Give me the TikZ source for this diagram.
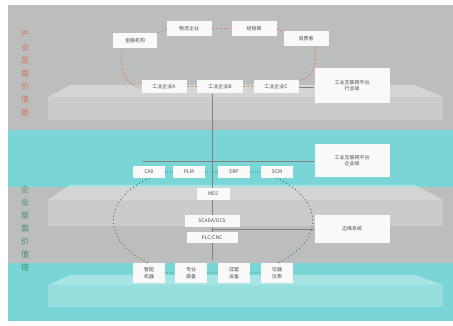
\documentclass[tikz,border=0pt]{standalone}
\usepackage{fontspec}
\newfontfamily\cjk{Noto Sans CJK SC}
\usetikzlibrary{positioning,backgrounds}
\definecolor{bandgray}{RGB}{188,190,190}
\definecolor{bandcyan}{RGB}{122,214,214}
\definecolor{loopor}{RGB}{214,140,100}
\definecolor{sideor}{RGB}{206,118,88}
\definecolor{dotgreen}{RGB}{58,110,80}
\definecolor{sidegreen}{RGB}{70,140,100}
\begin{document}
\begin{tikzpicture}[x=1pt,y=1pt,
  box/.style={fill=white!95!gray,inner sep=0pt,minimum width=32pt,minimum height=12pt,
    font=\cjk\fontsize{5}{6}\selectfont,text=black!70,align=center},
  sidebox/.style={box,minimum width=75pt},
  sidetext/.style={font=\cjk\fontsize{8}{13}\selectfont,align=center},
  slabtop/.style={fill=white,fill opacity=0.35},
  slabfront/.style={fill=white,fill opacity=0.22},
  chain/.style={loopor,line width=1pt,dash pattern=on 2pt off 2pt},
  ring/.style={dotgreen,line width=1.3pt,dash pattern=on 0pt off 3.6pt,line cap=round},
  dots/.style={dotgreen,line width=1pt,dash pattern=on 0pt off 2.5pt,line cap=round},
  link/.style={black!50,line width=0.4pt}]
\useasboundingbox (0,0) rectangle (453,326);

% side labels
\node[sidetext,text=sideor] (cyl) at (25,253) {产\\业\\层\\面\\价\\值\\链};
\node[sidetext,text=sidegreen] (qyl) at (25,98) {企\\业\\层\\面\\价\\值\\链};

% industry level
\node[box,minimum width=44pt,minimum height=15pt] (jr) at (135,285) {金融机构};
\node[box,minimum width=45pt,minimum height=15pt] (wl) at (189,297) {物流企业};
\node[box,minimum width=45pt,minimum height=15pt] (jx) at (254,297) {经销商};
\node[box,minimum width=45pt,minimum height=15pt] (xf) at (306,287) {消费者};
\node[box,minimum width=45pt,minimum height=13pt] (qa) at (164,239) {工业企业A};
\node[box,minimum width=46pt,minimum height=13pt] (qb) at (220,239) {工业企业B};
\node[box,minimum width=45pt,minimum height=13pt] (qc) at (276,239) {工业企业C};
\node[sidebox,minimum height=35pt] (hy) at (352,240) {工业互联网平台\\行业级};

% enterprise level
\node[box] (cax) at (149,154) {CAX};
\node[box] (plm) at (189,154) {PLM};
\node[box] (erp) at (234,154) {ERP};
\node[box] (scm) at (277,154) {SCM};
\node[sidebox,minimum height=33pt] (qy) at (352,165) {工业互联网平台\\企业级};
\node[box,minimum width=33pt] (mes) at (213,132) {MES};
\node[box,minimum width=55pt] (scada) at (212,105) {SCADA/DCS};
\node[box,minimum width=51pt,minimum height=11pt] (plc) at (212,88) {PLC/CNC};
\node[sidebox,minimum height=28pt] (by) at (352,97) {边缘系统};

% devices
\foreach \n/\x/\t in {zn/149/智能\\机器, zy/191/专业\\装备, ct/234/成套\\设备, yq/277/仪器\\仪表}
  \node[box,minimum height=20pt,font=\cjk\fontsize{5}{7}\selectfont] (\n) at (\x,53) {\t};

\begin{pgfonlayer}{background}
  % bands
  \fill[white] (0,0) rectangle (453,326);
  \fill[bandgray] (8,196) rectangle (453,321);
  \fill[bandcyan] (8,139) rectangle (453,196);
  \fill[bandgray] (8,63) rectangle (453,139);
  \fill[bandcyan] (8,5) rectangle (453,63);
  % slabs
  \foreach \b/\f/\u in {241/229/206, 141/126/100, 51/41/19} {
    \fill[slabtop] (70,\b) -- (415,\b) -- (443,\f) -- (48,\f) -- cycle;
    \fill[slabfront] (48,\f) rectangle (443,\u);
  }
  % platform links
  \coordinate (tr) at (212,66);
  \coordinate (qyend) at (143,165);
  \draw[link] (qb.south -| tr) -- (tr);
  \draw[link] (qc.east) -- (qc.east -| hy.west);
  \draw[link] (qy.west) -- (qyend);
  \draw[link] (by.west) -- (by.west -| tr);
\end{pgfonlayer}

% value chain loop
\draw[chain] ([xshift=-13pt]jr.south) to[out=-100,in=180] (qa.west);
\draw[chain] (jr.north east) -- (wl.west);
\draw[chain] (wl.east) -- (jx.west);
\draw[chain] (jx.east) -- (xf.north west);
\draw[chain] ([xshift=9pt]xf.south) to[out=-80,in=0] (qc.north east);
\draw[chain] (qa.east) -- (qb.west);
\draw[chain] (qb.east) -- (qc.west);

% enterprise ring
\draw[ring] (cax.south) arc[start angle=130,end angle=230,x radius=100,y radius=55.5];
\draw[ring] (scm.south) arc[start angle=50,end angle=-50,x radius=100,y radius=55.5];
\foreach \a/\b in {cax/plm, plm/erp, erp/scm, zn/zy, zy/ct, ct/yq}
  \draw[dots] (\a.east) -- (\b.west);
\end{tikzpicture}
\end{document}
